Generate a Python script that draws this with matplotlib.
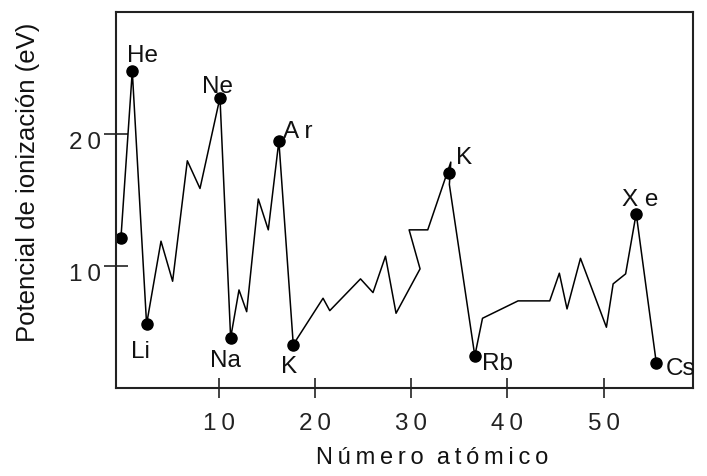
import numpy as np
import matplotlib
matplotlib.use('Agg')
import matplotlib.pyplot as plt
import matplotlib.transforms as mtransforms

plt.rcParams['font.family'] = ['Liberation Sans', 'DejaVu Sans']

# curve (x in tick units, eV)
x_line = [-0.24, 0.94, 2.43, 3.93, 5.14, 6.67, 7.99, 10.07, 11.18, 12.05, 12.85,
          14.06, 15.1, 16.2, 17.7, 20.8, 21.5, 24.7, 26.0, 27.3, 28.4, 30.9,
          29.76, 31.7, 34.1, 33.95, 36.6, 37.4, 41.1, 44.4, 45.4, 46.2, 47.6,
          50.3, 51.0, 52.3, 53.4, 55.5]
y_line = [12.15, 24.8, 5.6, 11.9, 8.86, 18.0, 15.9, 22.8, 4.56, 8.2, 6.55,
          15.1, 12.76, 19.5, 4.05, 7.57, 6.63, 9.04, 8.0, 10.76, 6.43, 9.8,
          12.76, 12.76, 17.9, 16.2, 3.2, 6.05, 7.37, 7.37, 9.47, 6.76, 10.6,
          5.37, 8.66, 9.42, 14.0, 2.63]

# marked elements
x_dots = [-0.24, 0.94, 2.43, 10.07, 11.18, 16.2, 17.7, 33.95, 36.6, 53.4, 55.5]
y_dots = [12.15, 24.8, 5.6, 22.8, 4.56, 19.5, 4.05, 17.1, 3.2, 14.0, 2.63]

names = ['He', 'Ne', 'A r', 'Li', 'Na', 'K', 'K', 'Rb', 'X e', 'Cs']
name_x = [0.35, 8.17, 16.6, 0.77, 9.03, 16.4, 34.6, 37.4, 51.9, 56.5]
name_y = [25.6, 23.2, 19.8, 3.14, 2.45, 1.95, 17.8, 2.2, 14.65, 1.82]

xticks = [10, 20, 30, 40, 50]
yticks = [10, 20]
sp = '\u2009'

fig = plt.figure(figsize=(7.07, 4.77), dpi=100)
ax = fig.add_axes([0.164, 0.1845, 0.816, 0.7885])

ax.plot(x_line, y_line, color='black', lw=1.1)
ax.plot(x_dots, y_dots, 'o', color='black', ms=8)

for n, tx, ty in zip(names, name_x, name_y):
    ax.text(tx, ty, n, fontsize=17.5, ha='left', va='baseline', color='#111111')

ax.set_xlim(-0.76, 59.3)
ax.set_ylim(0.76, 29.3)
ax.set_xticks(xticks)
ax.set_xticklabels([sp.join(str(t)) for t in xticks], fontsize=17.5)
ax.set_yticks(yticks)
ax.set_yticklabels([sp.join(str(t)) for t in yticks], fontsize=17.5)
ax.tick_params(axis='x', direction='inout', length=14, width=1.2, pad=10, colors='#222222')
ax.tick_params(axis='y', direction='inout', length=17, width=1.2, pad=2, colors='#222222')

# y tick labels sit a little below their ticks in the original
shift = mtransforms.ScaledTranslation(0, -5 / 100, fig.dpi_scale_trans)
for lab in ax.get_yticklabels():
    lab.set_transform(lab.get_transform() + shift)

for s in ax.spines.values():
    s.set_linewidth(1.5)
    s.set_color('#222222')

fig.text(432 / 707, 1 - 458 / 477, sp.join('Número') + '  ' + sp.join('atómico'),
         fontsize=17, ha='center', va='center', color='#111111')
fig.text(28 / 707, 1 - 182 / 477, 'Potencial de ionización (eV)', fontsize=18.5,
         rotation=90, ha='center', va='center', color='#111111')

fig.savefig('out.png', dpi=100)
